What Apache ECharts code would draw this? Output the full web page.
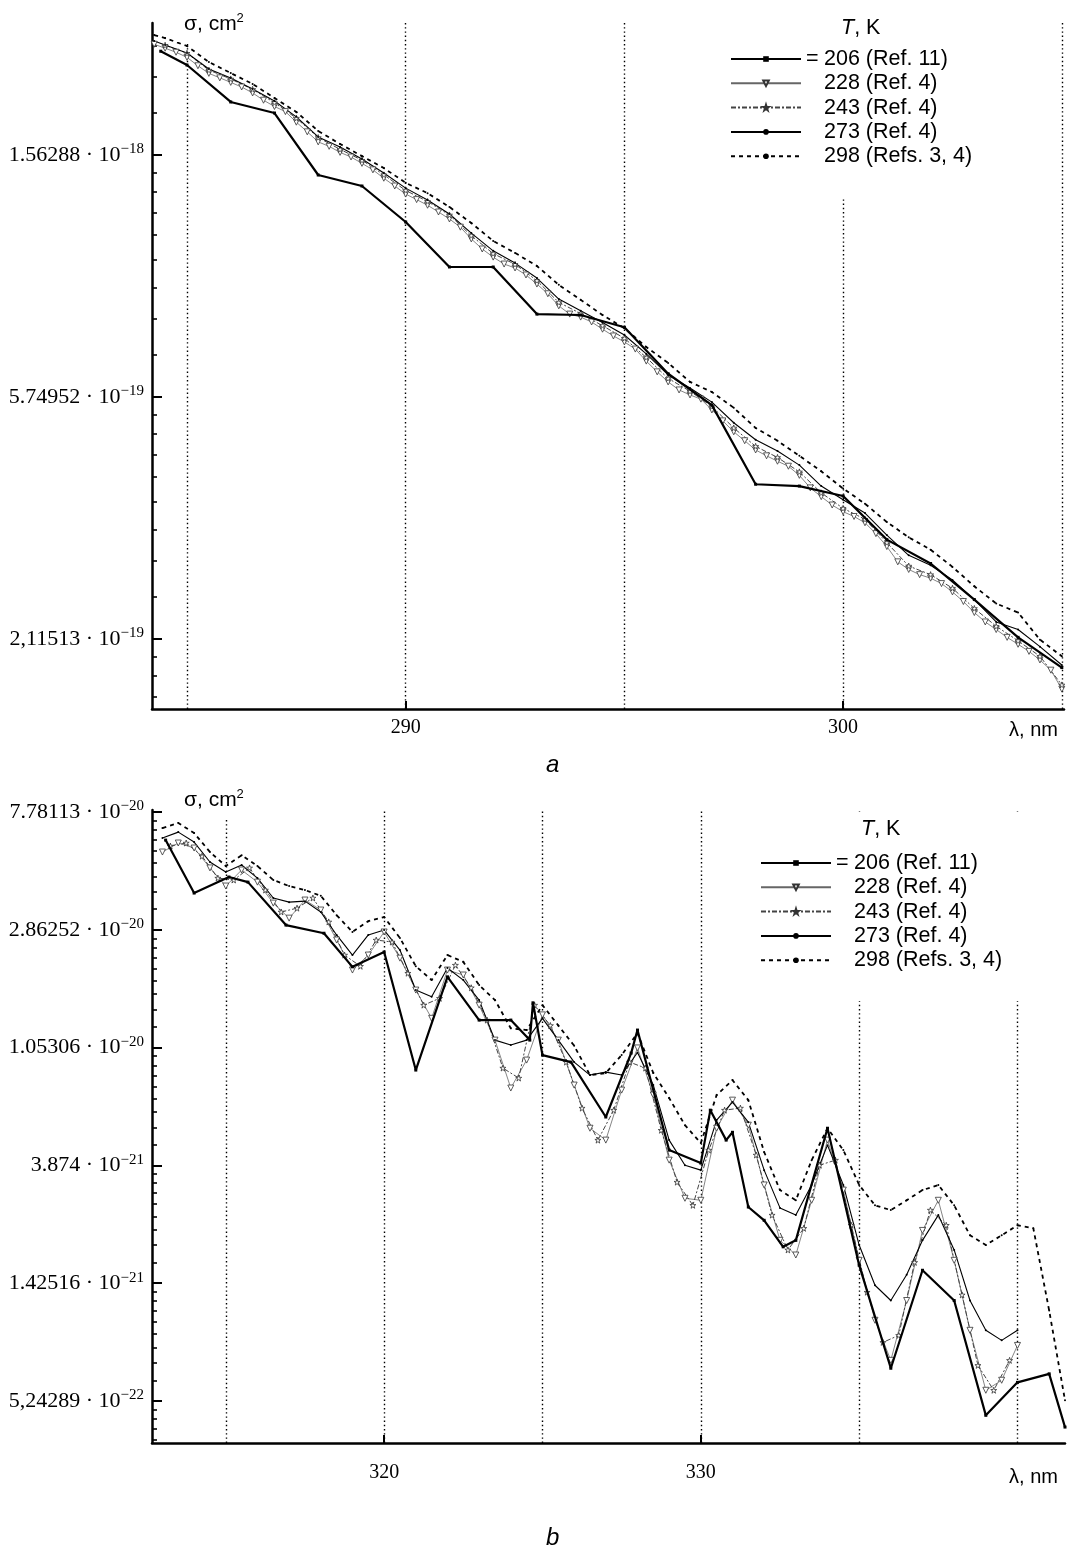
<!DOCTYPE html>
<html><head><meta charset="utf-8">
<script src="https://cdn.jsdelivr.net/npm/echarts@6/dist/echarts.min.js"></script>
<style>html,body{margin:0;padding:0;background:#fff}#c{width:1067px;height:1548px}</style>
</head><body><div id="c"></div>
<script>
// ---------- names ----------
const seriesNames = ['206 (Ref. 11)', '228 (Ref. 4)', '243 (Ref. 4)', '273 (Ref. 4)', '298 (Refs. 3, 4)'];

// ---------- panel a : sigma in units of 1e-19 cm^2 ----------
const unitA = 1e-19;
const wlA206 = [284.4, 285, 286, 287, 288, 289, 290, 291, 292, 293, 294, 295, 296, 297, 298, 299, 300, 301, 302, 303, 304, 305];
const sA206 = [24.0, 22.67, 19.46, 18.59, 14.39, 13.75, 11.85, 9.84, 9.84, 8.10, 8.07, 7.67, 6.33, 5.56, 4.01, 3.98, 3.82, 3.19, 2.89, 2.49, 2.13, 1.88];
const wlA228 = [284.25, 284.5, 284.75, 285, 285.25, 285.5, 285.75, 286, 286.25, 286.5, 286.75, 287, 287.25, 287.5, 287.75, 288, 288.25, 288.5, 288.75, 289, 289.25, 289.5, 289.75, 290, 290.25, 290.5, 290.75, 291, 291.25, 291.5, 291.75, 292, 292.25, 292.5, 292.75, 293, 293.25, 293.5, 293.75, 294, 294.25, 294.5, 294.75, 295, 295.25, 295.5, 295.75, 296, 296.25, 296.5, 296.75, 297, 297.25, 297.5, 297.75, 298, 298.25, 298.5, 298.75, 299, 299.25, 299.5, 299.75, 300, 300.25, 300.5, 300.75, 301, 301.25, 301.5, 301.75, 302, 302.25, 302.5, 302.75, 303, 303.25, 303.5, 303.75, 304, 304.25, 304.5, 304.75, 305];
const sA228 = [24.7, 24.3, 23.9, 23.4, 22.6, 21.9, 21.5, 21.1, 20.7, 20.2,
  19.6, 19.1, 18.7, 17.9, 17.2, 16.5, 16.2, 15.8, 15.5, 15.1,
  14.7, 14.2, 13.75, 13.3, 13.0, 12.7, 12.35, 12.0, 11.6, 11.05,
  10.6, 10.25, 9.96, 9.80, 9.52, 9.17, 8.81, 8.38, 8.10, 8.00,
  7.84, 7.61, 7.40, 7.22, 7.01, 6.67, 6.38, 6.12, 5.92, 5.80,
  5.70, 5.45, 5.21, 4.98, 4.80, 4.62, 4.51, 4.41, 4.32, 4.16,
  3.95, 3.81, 3.68, 3.58, 3.51, 3.42, 3.27, 3.10, 2.91, 2.82,
  2.76, 2.72, 2.66, 2.57, 2.47, 2.36, 2.27, 2.20, 2.13, 2.07,
  2.01, 1.94, 1.86, 1.72];
const wlA243 = [284.5, 285, 285.5, 286, 286.5, 287, 287.5, 288, 288.5, 289, 289.5, 290, 290.5, 291, 291.5, 292, 292.5, 293, 293.5, 294, 294.5, 295, 295.5, 296, 296.5, 297, 297.5, 298, 298.5, 299, 299.5, 300, 300.5, 301, 301.5, 302, 302.5, 303, 303.5, 304, 304.5, 305];
const sA243 = [24.6, 23.8, 22.2, 21.4, 20.5, 19.4, 18.2, 16.8, 16.0, 15.3, 14.4, 13.5, 12.9, 12.2, 11.2, 10.4, 9.95, 9.30, 8.50, 8.12, 7.72, 7.33, 6.77, 6.21, 5.89, 5.53, 5.06, 4.69, 4.48, 4.22, 3.87, 3.63, 3.47, 3.15, 2.86, 2.76, 2.61, 2.40, 2.23, 2.10, 1.97, 1.75];
const wlA273 = [284.25, 284.5, 285, 285.5, 286, 286.5, 287, 287.5, 288, 288.5, 289, 289.5, 290, 290.5, 291, 291.5, 292, 292.5, 293, 293.5, 294, 294.5, 295, 295.5, 296, 296.5, 297, 297.5, 298, 298.5, 299, 299.5, 300, 300.5, 301, 301.5, 302, 302.5, 303, 303.5, 304, 304.5, 305];
const sA273 = [25.04, 24.62, 23.82, 22.30, 21.49, 20.53, 19.54, 18.30, 16.84, 16.16, 15.37, 14.51, 13.63, 12.98, 12.25, 11.32, 10.52, 10.00, 9.40, 8.62, 8.21, 7.82, 7.43, 6.87, 6.30, 5.97, 5.63, 5.17, 4.82, 4.60, 4.34, 3.98, 3.76, 3.56, 3.25, 2.99, 2.87, 2.70, 2.49, 2.27, 2.20, 2.05, 1.90];
const wlA298 = [284.25, 284.5, 285, 285.5, 286, 286.5, 287, 287.5, 288, 288.5, 289, 289.5, 290, 290.5, 291, 291.5, 292, 292.5, 293, 293.5, 294, 294.5, 295, 295.5, 296, 296.5, 297, 297.5, 298, 298.5, 299, 299.5, 300, 300.5, 301, 301.5, 302, 302.5, 303, 303.5, 304, 304.5, 305];
const sA298 = [25.66, 25.34, 24.52, 22.95, 21.93, 20.96, 19.78, 18.67, 17.26, 16.36, 15.56, 14.81, 13.93, 13.35, 12.61, 11.80, 10.96, 10.43, 9.88, 9.14, 8.59, 8.07, 7.64, 7.07, 6.62, 6.12, 5.87, 5.50, 5.06, 4.80, 4.51, 4.23, 3.94, 3.70, 3.43, 3.22, 3.06, 2.85, 2.63, 2.45, 2.36, 2.11, 1.97];

// ---------- panel b : sigma in units of 1e-21 cm^2 ----------
const unitB = 1e-21;
const wlB206 = [313.1, 314.0, 315.1, 315.7, 316.9, 318.1, 319.0, 320.0, 321.0, 322.0, 323.0, 324.0, 324.6, 324.7, 325.0, 325.9, 327.0, 327.8, 328.0, 329.0, 330.0, 330.3, 330.8, 331.0, 331.5, 332.0, 332.6, 333.0, 334.0, 335.0, 336.0, 337.0, 338.0, 339.0, 340.0, 341.0, 341.5];
const sB206 = [61.3, 39.1, 44.8, 42.9, 29.8, 27.8, 20.9, 23.7, 8.70, 19.2, 13.3, 13.3, 11.22, 15.4, 9.88, 9.31, 5.84, 10.05, 12.22, 4.41, 3.95, 6.19, 4.80, 5.13, 2.72, 2.43, 1.94, 2.05, 5.31, 1.66, 0.692, 1.59, 1.23, 0.464, 0.614, 0.66, 0.42];
const wlB228 = [313, 313.5, 314, 314.5, 315, 315.5, 316, 316.5, 317, 317.5, 318, 318.5, 319, 319.5, 320, 320.5, 321, 321.5, 322, 322.5, 323, 323.5, 324, 324.5, 325, 325.5, 326, 326.5, 327, 327.5, 328, 328.5, 329, 329.5, 330, 330.5, 331, 331.5, 332, 332.5, 333, 333.5, 334, 334.5, 335, 335.5, 336, 336.5, 337, 337.5, 338, 338.5, 339, 339.5, 340];
const sB228 = [55.4, 59.8, 57.3, 48.4, 41.5, 47.55, 42.9, 35.9, 31.6, 36.85, 33.85, 26.24, 20.34, 23.1, 28.1, 22.5, 17.16, 13.5, 20.34, 19.5, 15.1, 11.22, 7.47, 9.47, 13.9, 11.22, 7.66, 5.31, 4.80, 7.34, 10.5, 7.04, 4.05, 2.93, 2.88, 5.31, 6.74, 5.45, 3.28, 2.05, 1.81, 2.88, 4.80, 3.14, 1.73, 1.04, 0.740, 1.23, 2.23, 2.88, 1.73, 0.955, 0.574, 0.625, 0.84];
const wlB243 = [313.25, 313.75, 314.25, 314.75, 315.25, 315.75, 316.25, 316.75, 317.25, 317.75, 318.25, 318.75, 319.25, 319.75, 320.25, 320.75, 321.25, 321.75, 322.25, 322.75, 323.25, 323.75, 324.25, 324.75, 325.25, 325.75, 326.25, 326.75, 327.25, 327.75, 328.25, 328.75, 329.25, 329.75, 330.25, 330.75, 331.25, 331.75, 332.25, 332.75, 333.25, 333.75, 334.25, 334.75, 335.25, 335.75, 336.25, 336.75, 337.25, 337.75, 338.25, 338.75, 339.25, 339.75];
const sB243 = [58.3, 59.8, 53.5, 44.4, 43.68, 48.4, 40.12, 33.3, 34.4, 37.5, 30.6, 23.1, 21.0, 26.24, 25.8, 19.8, 15.1, 16.0, 21.2, 17.5, 13.3, 8.85, 8.13, 15.1, 12.7, 9.31, 6.30, 4.80, 6.19, 9.31, 8.85, 5.22, 3.36, 2.76, 4.41, 6.19, 6.30, 4.23, 2.54, 1.89, 2.27, 3.88, 4.05, 2.33, 1.32, 0.862, 0.915, 1.70, 2.65, 2.33, 1.29, 0.709, 0.574, 0.740];
const wlB273 = [313, 313.5, 314, 314.5, 315, 315.5, 316, 316.5, 317, 317.5, 318, 318.5, 319, 319.5, 320, 320.5, 321, 321.5, 322, 322.5, 323, 323.5, 324, 324.5, 325, 325.5, 326, 326.5, 327, 327.5, 328, 328.5, 329, 329.5, 330, 330.5, 331, 331.5, 332, 332.5, 333, 333.5, 334, 334.5, 335, 335.5, 336, 336.5, 337, 337.5, 338, 338.5, 339, 339.5, 340];
const sB273 = [62.4, 65.6, 60.3, 50.9, 46.75, 49.6, 44.4, 37.5, 36.2, 36.5, 33.3, 27.4, 23.1, 27.4, 28.56, 24.10, 17.16, 16.2, 20.7, 18.68, 15.76, 11.22, 10.76, 11.22, 13.5, 11.22, 9.31, 8.34, 8.55, 8.34, 10.1, 7.66, 4.80, 3.88, 3.72, 5.69, 6.63, 5.59, 3.72, 2.70, 2.54, 3.28, 4.60, 3.28, 1.97, 1.40, 1.23, 1.53, 2.05, 2.54, 1.89, 1.23, 0.955, 0.877, 0.955];
const wlB298 = [313, 313.5, 314, 314.5, 315, 315.5, 316, 316.5, 317, 317.5, 318, 318.5, 319, 319.5, 320, 320.5, 321, 321.5, 322, 322.5, 323, 323.5, 324, 324.5, 325, 325.5, 326, 326.5, 327, 327.5, 328, 328.5, 329, 329.5, 330, 330.5, 331, 331.5, 332, 332.5, 333, 333.5, 334, 334.5, 335, 335.5, 336, 336.5, 337, 337.5, 338, 338.5, 339, 339.5, 340, 340.5, 341, 341.5];
const sB298 = [67.9, 70.9, 65.1, 55.4, 49.2, 53.9, 49.2, 43.68, 41.5, 40.12, 38.2, 32.4, 28.1, 30.8, 31.9, 26.7, 21.0, 18.68, 23.1, 21.8, 17.9, 15.76, 12.4, 12.22, 15.1, 12.7, 10.7, 8.34, 8.48, 9.88, 11.9, 8.48, 6.86, 5.45, 4.68, 7.04, 7.99, 6.74, 4.34, 3.14, 2.88, 4.05, 5.31, 4.41, 3.28, 2.76, 2.65, 2.88, 3.14, 3.28, 2.76, 2.14, 1.97, 2.14, 2.33, 2.27, 1.13, 0.527];

// ---------- axes / ticks ----------
const xLabelsA = [290, 300];
const xGridA = [285, 290, 295, 300, 305];
const xLabelsB = [320, 330];
const xGridB = [315, 320, 325, 330, 335, 340];
// y ticks sit at natural-log exponents (sigma = e^k)
const yExpA = [-41, -42, -43];
const yMantA = ['1.56288', '5.74952', '2,11513'];
const yPowA = ['\u221218', '\u221219', '\u221219'];
const yExpB = [-44, -45, -46, -47, -48, -49];
const yMantB = ['7.78113', '2.86252', '1.05306', '3.874', '1.42516', '5,24289'];
const yPowB = ['\u221220', '\u221220', '\u221220', '\u221221', '\u221221', '\u221222'];

const rangeA = {xmin: 284.2, xmax: 305.05, ymin: -43.289, ymax: -40.4545};
const rangeB = {xmin: 312.67, xmax: 341.5, ymin: -49.357, ymax: -43.983};

function minorTicks(lo, hi) {
  const out = [];
  for (let k = Math.floor(lo) - 1; k <= Math.ceil(hi); k++) {
    const a = Math.exp(k), b = Math.exp(k + 1);
    for (let j = 1; j < 9; j++) {
      const v = Math.log(a + (b - a) * j / 9);
      if (v > lo && v < hi) out.push(v);
    }
  }
  return out;
}

const serif = 'Liberation Serif';
const sans = 'Liberation Sans';
const starPath = 'path://M50,2 L61,37 L98,37 L68,59 L79,95 L50,73 L21,95 L32,59 L2,37 L39,37 Z';

const styles = [
  {lineStyle: {color: '#000', width: 2.2}, symbol: 'rect', symbolSize: 3, itemStyle: {color: '#000'}},
  {lineStyle: {color: '#666', width: 0.8}, symbol: 'triangle', symbolRotate: 180, symbolSize: 6,
   itemStyle: {color: '#fff', borderColor: '#333', borderWidth: 0.8}},
  {lineStyle: {color: '#444', width: 1, type: [5, 2, 2, 2]}, symbol: starPath, symbolSize: 6,
   itemStyle: {color: '#fff', borderColor: '#333', borderWidth: 0.8}},
  {lineStyle: {color: '#000', width: 1.1}, symbol: 'circle', symbolSize: 2, itemStyle: {color: '#000'}},
  {lineStyle: {color: '#000', width: 1.8, type: [4, 4]}, symbol: 'circle', symbolSize: 2, itemStyle: {color: '#000'}}
];

function mk(idx, panel, wl, s, unit, grid) {
  const ser = Object.assign({
    type: 'line', name: seriesNames[idx], xAxisIndex: panel, yAxisIndex: panel * 2,
    data: wl.map((w, i) => [w, Math.log(s[i] * unit)]),
    showSymbol: true, silent: true, animation: false, z: 2 + (idx === 0 ? 1 : 0)
  }, styles[idx]);
  if (grid) {
    ser.markLine = {
      silent: true, z: 1, symbol: ['none', 'none'], label: {show: false}, animation: false,
      lineStyle: {color: '#000', width: 1.4, type: [1.4, 2.8]},
      data: grid.map(v => ({xAxis: v}))
    };
  }
  return ser;
}

function yLabelFmt(exps, mants, pows) {
  return function (v) {
    for (let i = 0; i < exps.length; i++) {
      if (Math.abs(v - exps[i]) < 1e-6) return mants[i] + ' \u00b7 10{sup|' + pows[i] + '}';
    }
    return '';
  };
}

const yRich = {sup: {fontSize: 15, fontFamily: serif, color: '#000', verticalAlign: 'top', lineHeight: 13}};

function xAxisCfg(gi, r, labels, margin) {
  return {
    type: 'value', gridIndex: gi, min: r.xmin, max: r.xmax, splitLine: {show: false},
    axisLine: {lineStyle: {color: '#000', width: 2.5}},
    axisTick: {customValues: labels, inside: true, length: 8, lineStyle: {color: '#000', width: 2}},
    axisLabel: {customValues: labels, fontFamily: serif, fontSize: 20, color: '#000', margin: margin}
  };
}
function yAxesCfg(gi, r, exps, mants, pows) {
  return [{
    type: 'value', gridIndex: gi, position: 'left', min: r.ymin, max: r.ymax, splitLine: {show: false},
    axisLine: {lineStyle: {color: '#000', width: 2.5}},
    axisTick: {customValues: exps, inside: true, length: 10, lineStyle: {color: '#000', width: 2}},
    axisLabel: {customValues: exps, formatter: yLabelFmt(exps, mants, pows), fontFamily: serif,
      fontSize: 22, color: '#000', margin: 8, lineHeight: 26, rich: yRich}
  }, {
    type: 'value', gridIndex: gi, position: 'left', offset: 0, min: r.ymin, max: r.ymax, splitLine: {show: false},
    axisLine: {show: false},
    axisTick: {customValues: minorTicks(r.ymin, r.ymax), inside: true, length: 5, lineStyle: {color: '#000', width: 1.6}},
    axisLabel: {show: false}
  }];
}

function legendCfg(left, top, padTop) {
  return {
    orient: 'vertical', left: left, top: top, padding: [padTop, 40, 30, 8], backgroundColor: '#fff',
    itemWidth: 70, itemHeight: 7, itemGap: 2.3, selectedMode: false, data: seriesNames,
    formatter: n => (n === seriesNames[0] ? '{eq|=}' : '{eq| }') + ' ' + n,
    textStyle: {fontFamily: sans, fontSize: 21.5, color: '#000', lineHeight: 21,
      rich: {eq: {width: 12, fontFamily: sans, fontSize: 21.5, color: '#000'}}}
  };
}

function sigmaTitle(top) {
  return {text: '\u03c3, cm{sup|2}', left: 176, top: top, backgroundColor: '#fff', padding: [4, 8, 6, 8],
    textStyle: {fontFamily: sans, fontSize: 21, fontWeight: 'normal', color: '#000', lineHeight: 24,
      rich: {sup: {fontFamily: sans, fontSize: 13, color: '#000', verticalAlign: 'top', lineHeight: 13}}}};
}
function tkTitle(left, top) {
  return {text: '{i|T}, K', left: left, top: top,
    textStyle: {fontFamily: sans, fontSize: 21.5, fontWeight: 'normal', color: '#000',
      rich: {i: {fontFamily: sans, fontSize: 21.5, fontStyle: 'italic', color: '#000'}}}};
}
function plainTitle(text, pos, italic, size) {
  return Object.assign({text: text, textStyle: {fontFamily: sans, fontSize: size, fontWeight: 'normal',
    fontStyle: italic ? 'italic' : 'normal', color: '#000'}}, pos);
}

const option = {
  backgroundColor: '#fff',
  animation: false,
  grid: [
    {left: 152, top: 23, width: 912, height: 686},
    {left: 152, top: 810, width: 913, height: 633}
  ],
  xAxis: [xAxisCfg(0, rangeA, xLabelsA, 9), xAxisCfg(1, rangeB, xLabelsB, 20)],
  yAxis: yAxesCfg(0, rangeA, yExpA, yMantA, yPowA).concat(yAxesCfg(1, rangeB, yExpB, yMantB, yPowB)),
  legend: [legendCfg(722, 8, 40), legendCfg(752, 812, 40)],
  title: [
    sigmaTitle(8), sigmaTitle(784),
    tkTitle(836, 12), tkTitle(856, 813),
    plainTitle('\u03bb, nm', {right: 4, top: 715}, false, 20),
    plainTitle('\u03bb, nm', {right: 4, top: 1462}, false, 20),
    plainTitle('a', {left: 541, top: 748}, true, 24),
    plainTitle('b', {left: 541, top: 1521}, true, 24)
  ],
  series: [
    mk(0, 0, wlA206, sA206, unitA, xGridA),
    mk(1, 0, wlA228, sA228, unitA),
    mk(2, 0, wlA243, sA243, unitA),
    mk(3, 0, wlA273, sA273, unitA),
    mk(4, 0, wlA298, sA298, unitA),
    mk(0, 1, wlB206, sB206, unitB, xGridB),
    mk(1, 1, wlB228, sB228, unitB),
    mk(2, 1, wlB243, sB243, unitB),
    mk(3, 1, wlB273, sB273, unitB),
    mk(4, 1, wlB298, sB298, unitB)
  ]
};

const chart = echarts.init(document.getElementById('c'), null, {renderer: 'canvas'});
chart.setOption(option);
</script>
</body></html>
